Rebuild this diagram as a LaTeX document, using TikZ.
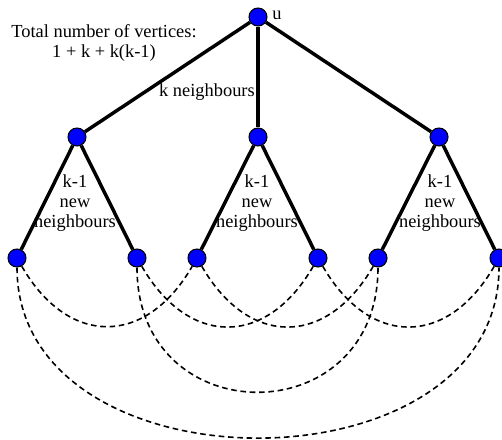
\documentclass[tikz,border=0pt]{standalone}
\usepackage{fontspec}
\setmainfont{Liberation Serif}
\begin{document}
\begin{tikzpicture}[x=0.75pt,y=-0.75pt,
  vtx/.style={circle,draw=black,line width=0.8pt,fill=blue,minimum size=13.5pt,inner sep=0pt},
  tree/.style={line width=2.6pt},
  link/.style={line width=1.2pt,dash pattern=on 4.2pt off 2.8pt},
  lbl/.style={font=\fontsize{13.8}{15}\selectfont,align=center,inner sep=0pt}]
\useasboundingbox (0,0) rectangle (502,439);
\clip (0,0) rectangle (502,439);
\node[vtx] (u) at (258,17) {};
\node[vtx] (m1) at (77,137) {};
\node[vtx] (m2) at (258,137) {};
\node[vtx] (m3) at (439,137) {};
\node[vtx] (l1) at (17,258) {};
\node[vtx] (l2) at (137,258) {};
\node[vtx] (l3) at (197,258) {};
\node[vtx] (l4) at (318,258) {};
\node[vtx] (l5) at (378,258) {};
\node[vtx] (l6) at (499,258) {};
\draw[tree] (u) -- (m1);
\draw[tree] (u) -- (m2);
\draw[tree] (u) -- (m3);
\draw[tree] (m1) -- (l1);
\draw[tree] (m1) -- (l2);
\draw[tree] (m2) -- (l3);
\draw[tree] (m2) -- (l4);
\draw[tree] (m3) -- (l5);
\draw[tree] (m3) -- (l6);
\draw[link] (l1) to[out=-60,in=-120,looseness=1.4] (l3);
\draw[link] (l2) to[out=-60,in=-120,looseness=1.4] (l4);
\draw[link] (l3) to[out=-60,in=-120,looseness=1.4] (l5);
\draw[link] (l4) to[out=-60,in=-120,looseness=1.4] (l6);
\draw[link] (l2) to[out=-90,in=-90,looseness=1.77] (l5);
\draw[link] (l1) to[out=-90,in=-90,looseness=1.21] (l6);
\node[lbl] (tot) at (104,43) {Total number of vertices:\\1 + k + k(k-1)};
\node[lbl,anchor=east] (kn) at (255,92) {k neighbours};
\node[lbl] (ul) at (277,15) {u};
\node[lbl] (n1) at (75,203) {k-1\\new\\neighbours};
\node[lbl] (n2) at (257,203) {k-1\\new\\neighbours};
\node[lbl] (n3) at (440,203) {k-1\\new\\neighbours};
\end{tikzpicture}
\end{document}
